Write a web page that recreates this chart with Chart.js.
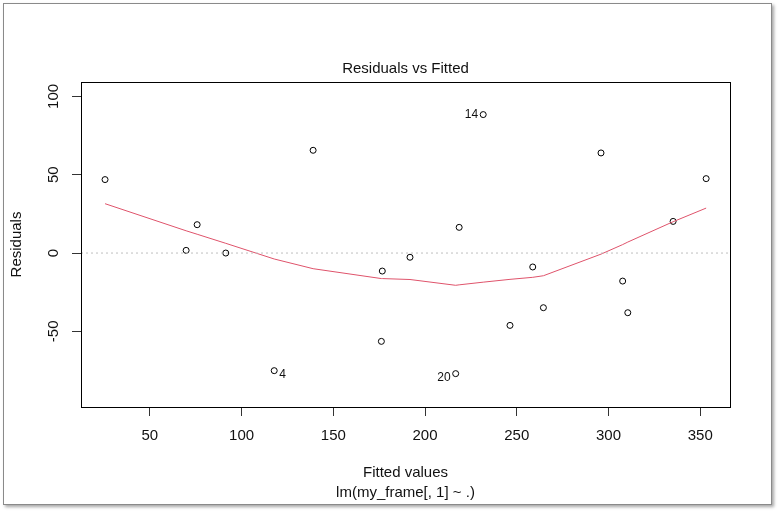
<!DOCTYPE html>
<html>
<head>
<meta charset="utf-8">
<script src="https://cdn.jsdelivr.net/npm/chart.js@4.4.1/dist/chart.umd.min.js"></script>
<style>
  html, body { margin: 0; padding: 0; background: #fff; }
  #frame { position: absolute; left: 3px; top: 3px; width: 767px; height: 500px;
           border: 1px solid #8a8a8a; box-shadow: 2px 2px 3px rgba(0,0,0,0.35); background: #fff; }
  #wrap { position: absolute; left: 0; top: 0; width: 780px; height: 513px; }
</style>
</head>
<body>
<div id="frame"></div>
<div id="wrap"><canvas id="residChart"></canvas></div>
<script>
// valeurs (triées par valeur ajustée)
const fitted = [25.6, 69.8, 75.8, 91.4, 117.8, 139.0, 176.2, 176.7, 191.8, 216.7,
                218.6, 231.7, 246.3, 258.7, 264.5, 295.9, 307.7, 310.5, 335.2, 353.2];
const resid  = [46.9, 1.7, 18.1, 0.0, -75.1, 65.6, -56.4, -11.5, -2.7, -77.0,
                16.4, 88.4, -46.2, -8.9, -34.9, 63.9, -17.9, -38.1, 20.2, 47.5];
const smooth = [31.5, 14.2, 12.0, 6.2, -3.8, -10.0, -16.3, -16.3, -16.9, -20.6,
                -20.3, -18.6, -16.8, -15.5, -14.5, -0.7, 5.4, 7.0, 20.0, 28.7];
const idLabels = ['', '', '', '', '4', '', '', '', '', '20',
                  '', '14', '', '', '', '', '', '', '', ''];
const xTicks = [50, 100, 150, 200, 250, 300, 350];
const yTicks = [-50, 0, 50, 100];
const xRange = [12.5, 366.2];
const yRange = [-98.3, 109.2];

const FONT = '"Liberation Sans", Arial, sans-serif';
const TXT = '#111';
Chart.defaults.font.family = FONT;
Chart.defaults.color = TXT;

// étiquettes des points, axe Y tourné, cadre du graphique
const rPlotExtras = {
    id: 'rPlotExtras',
    afterDatasetsDraw(chart) {
        const ctx = chart.ctx;
        const meta = chart.getDatasetMeta(2);
        const mid = (Math.min(...fitted) + Math.max(...fitted)) / 2;
        ctx.save();
        ctx.font = '12px ' + FONT;
        ctx.fillStyle = TXT;
        ctx.textBaseline = 'middle';
        meta.data.forEach((pt, i) => {
            const lab = idLabels[i];
            if (!lab) return;
            const left = fitted[i] > mid;
            ctx.textAlign = left ? 'right' : 'left';
            ctx.fillText(lab, pt.x + (left ? -5 : 5), pt.y + (resid[i] < 0 ? 4 : 0));
        });
        ctx.restore();
    },
    afterDraw(chart) {
        const { ctx, chartArea: a, scales: { y } } = chart;
        ctx.save();
        ctx.strokeStyle = '#000';
        ctx.lineWidth = 1;
        ctx.strokeRect(Math.round(a.left) + 0.5, Math.round(a.top) + 0.5,
                       Math.round(a.right - a.left), Math.round(a.bottom - a.top));
        ctx.font = '15px ' + FONT;
        ctx.fillStyle = TXT;
        ctx.textAlign = 'center';
        ctx.textBaseline = 'middle';
        const lx = y.right - 27;
        yTicks.forEach(v => {
            const py = y.getPixelForValue(v);
            ctx.save();
            ctx.translate(lx, py);
            ctx.rotate(-Math.PI / 2);
            ctx.fillText(String(v), 0, 0);
            ctx.restore();
        });
        ctx.restore();
    }
};

new Chart(document.getElementById('residChart'), {
    type: 'scatter',
    data: {
        datasets: [
            {
                label: 'zero',
                type: 'line',
                data: [{ x: xRange[0], y: 0 }, { x: xRange[1], y: 0 }],
                borderColor: '#bebebe',
                borderWidth: 1,
                borderDash: [2, 3],
                pointRadius: 0,
                order: 0
            },
            {
                label: 'lowess',
                type: 'line',
                data: fitted.map((x, i) => ({ x, y: smooth[i] })),
                borderColor: '#DF536B',
                borderWidth: 1,
                pointRadius: 0,
                tension: 0,
                order: 1
            },
            {
                label: 'Residuals',
                data: fitted.map((x, i) => ({ x, y: resid[i] })),
                pointRadius: 3,
                pointBorderColor: '#000',
                pointBackgroundColor: 'rgba(0,0,0,0)',
                pointBorderWidth: 1,
                order: 2
            }
        ]
    },
    options: {
        responsive: true,
        maintainAspectRatio: false,
        animation: false,
        events: [],
        layout: { padding: { left: 0, top: 0, right: 50, bottom: 0 } },
        plugins: {
            legend: { display: false },
            tooltip: { enabled: false },
            title: {
                display: true,
                fullSize: false,
                text: 'Residuals vs Fitted',
                font: { size: 15, weight: 'normal' },
                padding: { top: 60, bottom: 4 }
            },
            subtitle: {
                display: true,
                fullSize: false,
                position: 'bottom',
                text: 'lm(my_frame[, 1] ~ .)',
                font: { size: 15 },
                padding: { top: 0, bottom: 11 }
            }
        },
        scales: {
            x: {
                type: 'linear',
                min: xRange[0],
                max: xRange[1],
                afterBuildTicks: s => { s.ticks = xTicks.map(v => ({ value: v })); },
                afterFit: s => { s.height = 77; },
                grid: { drawOnChartArea: false, drawTicks: true, tickLength: 9, color: '#333' },
                border: { display: false },
                ticks: { padding: 11, font: { size: 15 }, maxRotation: 0, autoSkip: false },
                title: { display: true, text: 'Fitted values', font: { size: 15 }, padding: { top: 4, bottom: 2 } }
            },
            y: {
                type: 'linear',
                min: yRange[0],
                max: yRange[1],
                afterBuildTicks: s => { s.ticks = yTicks.map(v => ({ value: v })); },
                afterFit: s => { s.width = 81; },
                grid: { drawOnChartArea: false, drawTicks: true, tickLength: 9, color: '#333' },
                border: { display: false },
                ticks: { display: false },
                title: { display: true, text: 'Residuals', font: { size: 15 }, padding: { top: 8, bottom: 0 } }
            }
        }
    },
    plugins: [rPlotExtras]
});
</script>
</body>
</html>
